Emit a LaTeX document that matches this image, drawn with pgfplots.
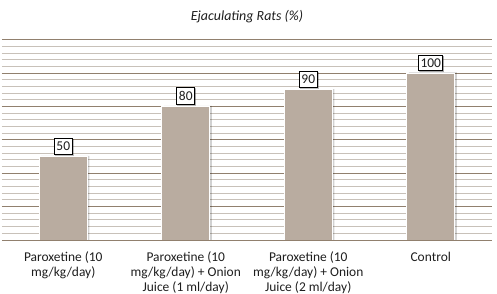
\documentclass[border=0pt]{standalone}
\usepackage{fontspec}
\setmainfont{Carlito}
\usepackage{pgfplots}
\pgfplotsset{compat=1.18}
\usetikzlibrary{shadows}
\definecolor{barc}{RGB}{185,172,160}
\definecolor{majg}{RGB}{145,128,110}
\definecolor{ming}{RGB}{200,193,185}
\definecolor{txt}{RGB}{30,30,30}
\begin{document}
\begin{tikzpicture}
\useasboundingbox (-2bp,-54bp) rectangle (495bp,240bp);
\begin{axis}[
  scale only axis,
  width=490bp, height=200bp,
  xmin=-0.5, xmax=3.5,
  ymin=0, ymax=120,
  axis line style={draw=none},
  tick style={draw=none},
  ytick={0,20,...,120},
  minor ytick={4,8,...,116},
  yticklabels={},
  ymajorgrids, yminorgrids,
  major grid style={majg, line width=1bp},
  minor grid style={ming, line width=1bp},
  xtick=data,
  xticklabels={{Paroxetine (10\\mg/kg/day)},{Paroxetine (10\\mg/kg/day) + Onion\\Juice (1 ml/day)},{Paroxetine (10\\mg/kg/day) + Onion\\Juice (2 ml/day)},{Control}},
  xticklabel style={align=center, font=\fontsize{13.5}{15}\selectfont, text=txt, anchor=north, yshift=-4bp},
  title={\itshape Ejaculating Rats (\%)},
  title style={font=\fontsize{14}{16}\selectfont, text=txt, at={(0.5,1)}, anchor=center, yshift=17bp},
  ybar, bar width=48bp, bar shift=0pt,
  /pgf/number format/assume math mode=true,
]
\addplot[fill=black, fill opacity=0.18, draw=none, xshift=2bp, yshift=-0.5bp, forget plot] coordinates {(0,50.8) (1,80.8) (2,90.8) (3,100.8)};
\addplot[fill=barc, draw=white, line width=1bp,
  nodes near coords,
  every node near coord/.append style={draw=black, fill=white, fill opacity=1, inner xsep=2bp, inner ysep=3.5bp, font=\fontsize{13.5}{15}\selectfont, text=txt, yshift=2bp, drop shadow={shadow xshift=1bp, shadow yshift=-1bp, opacity=0.25}},
] coordinates {(0,50) (1,80) (2,90) (3,100)};
\end{axis}
\end{tikzpicture}
\end{document}
